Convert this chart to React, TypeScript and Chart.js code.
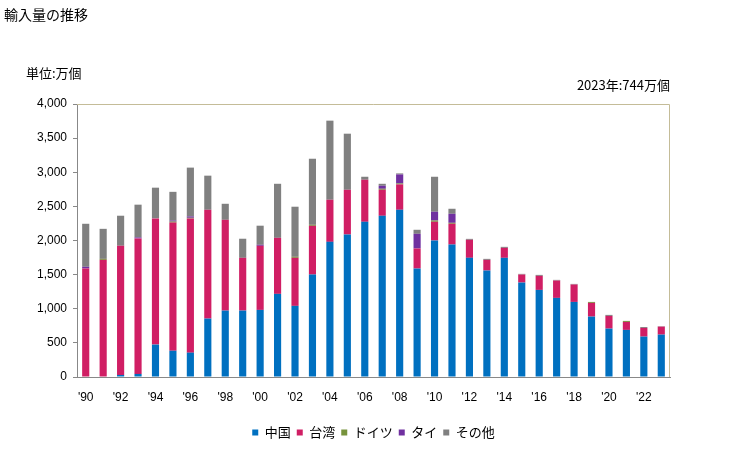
import React, { useEffect, useRef } from "react";
import { Chart, registerables } from "chart.js";

Chart.register(...registerables);

const years: number[] = Array.from({ length: 34 }, (_, i) => 1990 + i);
const yearLabels: string[] = years.map((y) => String(y));

const chinaValues = [0, 0, 30, 45, 475, 385, 357, 856, 973, 973, 983, 1218, 1042, 1501, 1980, 2088, 2274, 2362, 2450, 1589, 2000, 1941, 1746, 1560, 1746, 1384, 1276, 1159, 1100, 885, 709, 690, 592, 621];
const taiwanValues = [1590, 1716, 1893, 1985, 1849, 1878, 1966, 1594, 1330, 773, 939, 821, 704, 714, 617, 655, 616, 381, 372, 294, 274, 304, 264, 156, 146, 117, 206, 254, 255, 201, 186, 117, 127, 117];
const germanyValues = [0, 15, 0, 0, 0, 15, 10, 0, 0, 0, 0, 0, 15, 15, 0, 0, 0, 15, 14, 0, 19, 14, 0, 0, 0, 0, 0, 0, 0, 14, 0, 15, 0, 0];
const thaiValues = [25, 0, 0, 15, 0, 15, 20, 0, 0, 0, 15, 0, 0, 0, 0, 0, 0, 44, 132, 215, 128, 132, 0, 0, 0, 0, 0, 0, 0, 0, 0, 0, 0, 0];
const otherValues = [630, 440, 440, 480, 450, 420, 715, 500, 235, 280, 280, 792, 734, 968, 1159, 822, 44, 29, 15, 59, 513, 74, 14, 15, 15, 10, 14, 10, 9, 0, 15, 0, 14, 6];

const seriesNames = ["中国", "台湾", "ドイツ", "タイ", "その他"];
const seriesColors = ["#0070c0", "#d01e64", "#77933c", "#7030a0", "#808080"];
const yTicks = { min: 0, max: 4000, step: 500 };

const FONT = "'Liberation Sans', 'Noto Sans CJK JP', sans-serif";
const JFONT = "'Noto Sans CJK JP', sans-serif";

const framePlugin = {
  id: "frame",
  afterDraw(chart: any) {
    const { ctx, chartArea } = chart;
    ctx.save();
    ctx.strokeStyle = "#c4bc98";
    ctx.lineWidth = 1;
    ctx.beginPath();
    ctx.moveTo(chartArea.left, chartArea.top + 0.5);
    ctx.lineTo(chartArea.right - 0.5, chartArea.top + 0.5);
    ctx.lineTo(chartArea.right - 0.5, chartArea.bottom);
    ctx.stroke();
    ctx.restore();
  },
};

export default function App() {
  const ref = useRef<HTMLCanvasElement | null>(null);
  useEffect(() => {
    if (!ref.current) return;
    const allValues = [chinaValues, taiwanValues, germanyValues, thaiValues, otherValues];
    const chart = new Chart(ref.current, {
      type: "bar",
      data: {
        labels: yearLabels,
        datasets: seriesNames.map((name, i) => ({
          label: name,
          data: allValues[i],
          backgroundColor: seriesColors[i],
          borderWidth: 0,
          barPercentage: 0.41,
          categoryPercentage: 1,
        })),
      },
      options: {
        animation: false,
        responsive: false,
        maintainAspectRatio: false,
        layout: { padding: { left: 0, right: 59, top: 104, bottom: 1 } },
        plugins: {
          legend: {
            position: "bottom",
            fullSize: false,
            labels: {
              boxWidth: 6,
              boxHeight: 6,
              padding: 6,
              color: "#000",
              font: { family: JFONT, size: 13 },
            },
          },
          tooltip: { enabled: false },
        },
        scales: {
          x: {
            stacked: true,
            grid: { display: false },
            border: { color: "#888888", width: 1 },
            ticks: {
              autoSkip: false,
              maxRotation: 0,
              padding: 5,
              color: "#000",
              font: { family: FONT, size: 12 },
              callback: (_v: any, i: number) =>
                years[i] % 2 === 0 ? "'" + String(years[i]).slice(2) : "",
            },
            afterFit: (s: any) => {
              s.height = 43;
            },
          },
          y: {
            stacked: true,
            min: yTicks.min,
            max: yTicks.max,
            grid: { drawOnChartArea: false, drawTicks: true, tickLength: 4, color: "#888888" },
            border: { color: "#888888", width: 1 },
            ticks: {
              stepSize: yTicks.step,
              padding: 6,
              color: "#000",
              font: { family: FONT, size: 12 },
              callback: (v: any) => Number(v).toLocaleString("en-US"),
            },
            afterFit: (s: any) => {
              s.width = 77;
            },
          },
        },
      },
      plugins: [framePlugin],
    });
    return () => chart.destroy();
  }, []);

  return (
    <div style={{ position: "fixed", left: 0, top: 0, width: 729, height: 450, background: "#fff" }}>
      <canvas ref={ref} width={729} height={450} style={{ position: "absolute", left: 0, top: 0 }} />
      <div style={{ position: "absolute", left: 4, top: 5, fontFamily: JFONT, fontSize: 14, lineHeight: "18px", color: "#000" }}>
        輸入量の推移
      </div>
      <div style={{ position: "absolute", left: 26, top: 64, fontFamily: JFONT, fontSize: 13, lineHeight: "18px", color: "#000" }}>
        単位:万個
      </div>
      <div style={{ position: "absolute", right: 59, top: 76, fontFamily: JFONT, fontSize: 13, lineHeight: "18px", color: "#000", whiteSpace: "nowrap" }}>
        2023年:744万個
      </div>
    </div>
  );
}
